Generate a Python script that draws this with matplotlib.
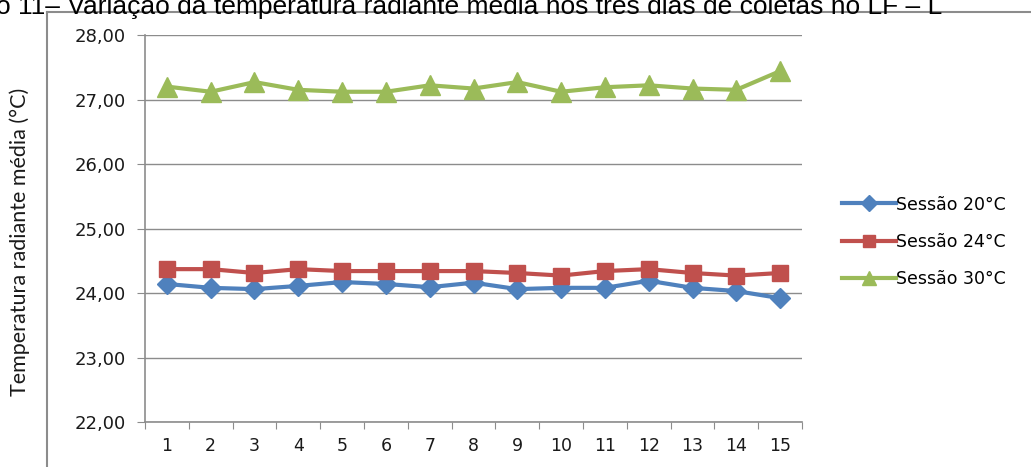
import matplotlib
matplotlib.use("Agg")
import matplotlib.pyplot as plt
from matplotlib.lines import Line2D

# dados
sessoes = list(range(1, 16))
sessao_20 = [24.14, 24.08, 24.06, 24.11, 24.17, 24.14, 24.09, 24.16, 24.06, 24.08,
             24.08, 24.19, 24.08, 24.03, 23.92]
sessao_24 = [24.37, 24.37, 24.31, 24.37, 24.34, 24.34, 24.34, 24.34, 24.31, 24.27,
             24.34, 24.37, 24.31, 24.27, 24.31]
sessao_30 = [27.20, 27.12, 27.27, 27.15, 27.12, 27.12, 27.22, 27.17, 27.27, 27.12,
             27.19, 27.22, 27.17, 27.15, 27.44]
rotulos = ["Sessão 20°C", "Sessão 24°C", "Sessão 30°C"]
y_ticks = [22, 23, 24, 25, 26, 27, 28]

W, H = 1031, 467
fig = plt.figure(figsize=(W / 100, H / 100), dpi=100)

# titulo cortado no topo (como na imagem original)
fig.text(-4 / W, 1 - 14 / H,
         "o 11– Variação da temperatura radiante média nos três dias de coletas no LF – L",
         fontsize=19, family="Liberation Sans", ha="left", va="baseline", color="black")

# moldura do grafico
fig.add_artist(Line2D([47 / W, 47 / W], [0, 1 - 12 / H], color="#8c8c8c", lw=1.5,
                      transform=fig.transFigure))
fig.add_artist(Line2D([47 / W, 1], [1 - 12 / H, 1 - 12 / H], color="#8c8c8c", lw=1.5,
                      transform=fig.transFigure))

ax = fig.add_axes([145 / W, 45 / H, (802 - 145) / W, (422 - 35) / H])

ax.plot(sessoes, sessao_20, color="#4F81BD", lw=3, marker="D", markersize=10.5,
        label=rotulos[0])
ax.plot(sessoes, sessao_24, color="#C0504D", lw=3, marker="s", markersize=12,
        label=rotulos[1])
ax.plot(sessoes, sessao_30, color="#9BBB59", lw=3, marker="^", markersize=14,
        label=rotulos[2])

ax.set_xlim(0.5, 15.5)
ax.set_ylim(22, 28)
ax.set_yticks(y_ticks)
ax.set_yticklabels([f"{v:.2f}".replace(".", ",") for v in y_ticks])
ax.set_xticks([i + 0.5 for i in range(0, 16)])
ax.set_xticklabels([])
ax.set_xticks(sessoes, minor=True)
ax.set_xticklabels([str(s) for s in sessoes], minor=True)
ax.tick_params(axis="x", which="minor", length=0, pad=11, labelsize=12.5, labelcolor="#1a1a1a")
ax.tick_params(axis="x", which="major", length=5, color="#8c8c8c", direction="out")
ax.tick_params(axis="y", length=6, color="#8c8c8c", pad=8, labelsize=13, labelcolor="#1a1a1a")

ax.grid(axis="y", color="#8c8c8c", lw=1)
ax.set_axisbelow(True)
for s in ["top", "right"]:
    ax.spines[s].set_visible(False)
for s in ["left", "bottom"]:
    ax.spines[s].set_color("#8c8c8c")
    ax.spines[s].set_linewidth(1.2)

fig.text(20 / W, 1 - 242 / H, "Temperatura radiante média (°C)", rotation=90,
         fontsize=15.5, family="Lato", ha="center", va="center", color="#1a1a1a")

ax.legend(loc="center left", bbox_to_anchor=(833 / W, 1 - 242 / H),
          bbox_transform=fig.transFigure, frameon=False, fontsize=12.5,
          handlelength=3.1, handletextpad=0.05, labelspacing=1.12, borderpad=0,
          markerscale=0.75)

fig.savefig("out.png", dpi=100)
